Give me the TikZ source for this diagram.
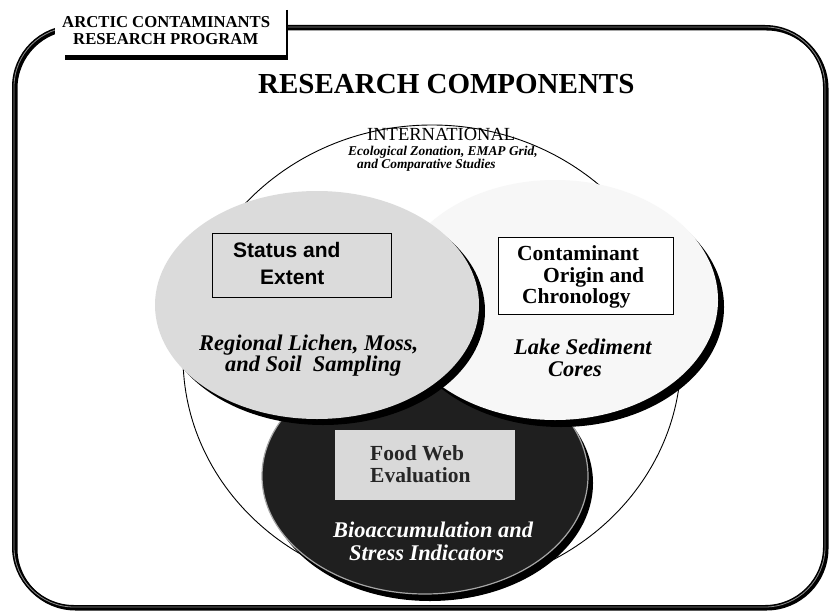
\documentclass[tikz,border=0pt]{standalone}
\usepackage{fontspec}
\setmainfont{Liberation Serif}
\newfontfamily\arialfont{Liberation Sans}
\usetikzlibrary{calc}

\begin{document}
\begin{tikzpicture}[x=1pt,y=-1pt,
  frameline/.style={line width=4pt, black, rounded corners=60pt},
  framestripe/.style={line width=0.8pt, black!45, rounded corners=60pt},
  ringline/.style={line width=0.9pt, black},
  dropshadow/.style={fill=black},
  hdr/.style={anchor=base west, inner sep=0pt, font=\bfseries\fontsize{16.7}{16.7}\selectfont},
  title/.style={anchor=base west, inner sep=0pt, font=\bfseries\fontsize{29}{29}\selectfont},
  intl/.style={anchor=base west, inner sep=0pt, font=\fontsize{18.5}{18.5}\selectfont},
  intlsub/.style={anchor=base west, inner sep=0pt, font=\bfseries\itshape\fontsize{13.4}{13.4}\selectfont},
  headb/.style={anchor=base west, inner sep=0pt, font=\bfseries\fontsize{21.5}{21.5}\selectfont},
  heads/.style={anchor=base west, inner sep=0pt, font=\arialfont\bfseries\fontsize{21}{21}\selectfont},
  sub/.style={anchor=base west, inner sep=0pt, font=\bfseries\itshape\fontsize{22.4}{22.4}\selectfont},
  topicbox/.style={draw=black, line width=1.3pt, inner sep=0pt, anchor=north west}
]
\useasboundingbox (0,0) rectangle (829,615);
\fill[white] (0,0) rectangle (829,615);

% outer frame of the slide
\draw[frameline] ($(14,27)+(1.5,1.5)$) rectangle ($(825,607)+(1.5,1.5)$);
\draw[frameline] (14,27) rectangle (825,607);
\draw[framestripe] (14,27) rectangle (825,607);

% program label tab
\fill[white] (55,2) rectangle (287,57);
\draw[line width=5pt] (65,58) -- (288,58);
\draw[line width=2.5pt] (287,10) -- (287,60);
\node[hdr] (prog1) at (62,28) {ARCTIC CONTAMINANTS};
\node[hdr] (prog2) at (73,45) {RESEARCH PROGRAM};

% heading
\node[title] (heading) at (258,94) {RESEARCH COMPONENTS};

% international ring
\coordinate (ringc) at (432,357);
\draw[ringline] (ringc) ellipse [x radius=249pt, y radius=232pt];
\node[intl] (intl) at (367,140) {INTERNATIONAL};
\node[intlsub] (intl1) at (348,155) {Ecological Zonation, EMAP Grid,};
\node[intlsub] (intl2) at (357,168) {and Comparative Studies};

% food web component (dark)
\coordinate (foodc) at (425,476);
\fill[dropshadow] ($(foodc)+(5,7)$) ellipse [x radius=163pt, y radius=118pt];
\filldraw[fill=black!88, draw=black!35, line width=1.2pt] (foodc) ellipse [x radius=163pt, y radius=118pt];

% contaminant origin component (white)
\coordinate (contc) at (555,300);
\fill[dropshadow] ($(contc)+(6,7)$) ellipse [x radius=163pt, y radius=120pt];
\fill[black!3] (contc) ellipse [x radius=163pt, y radius=120pt];

% status and extent component (light grey)
\coordinate (statc) at (317,305);
\fill[dropshadow] ($(statc)+(6,6)$) ellipse [x radius=162pt, y radius=114pt];
\fill[black!14] (statc) ellipse [x radius=162pt, y radius=114pt];

% status box
\node[topicbox, fill=black!14, minimum width=179pt, minimum height=64pt] (statbox) at (212,233) {};
\node[heads] (stat1) at (233,257) {Status and};
\node[heads] (stat2) at (260,284) {Extent};
\node[sub] (stat3) at (199,350) {Regional Lichen, Moss,};
\node[sub] (stat4) at (225,371) {and Soil\ \ Sampling};

% contaminant box
\node[topicbox, fill=white, minimum width=175pt, minimum height=77pt] (contbox) at (498,237) {};
\node[headb] (cont1) at (517,260) {Contaminant};
\node[headb] (cont2) at (543,282) {Origin and};
\node[headb] (cont3) at (522,303) {Chronology};
\node[sub] (cont4) at (514,354) {Lake Sediment};
\node[sub] (cont5) at (548,376) {Cores};

% food web box
\node[anchor=north west, fill=black!15, inner sep=0pt, minimum width=180pt, minimum height=70pt] (foodbox) at (335,430) {};
\node[headb, text=black!85] (food1) at (370,460) {Food Web};
\node[headb, text=black!85] (food2) at (370,482) {Evaluation};
\node[sub, text=white] (food3) at (333,537) {Bioaccumulation and};
\node[sub, text=white] (food4) at (349,560) {Stress Indicators};

\end{tikzpicture}
\end{document}
